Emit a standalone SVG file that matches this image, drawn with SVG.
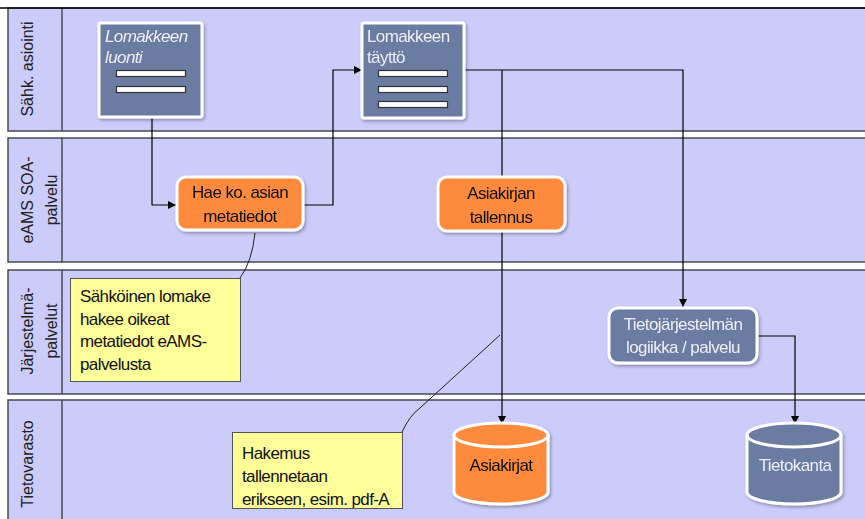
<svg xmlns="http://www.w3.org/2000/svg" width="865" height="519" viewBox="0 0 865 519">
  <defs>
    <style>
      .lane { fill: #ccccfb; stroke: #4a4a55; stroke-width: 1.5; }
      .hdr { fill: none; stroke: #4a4a55; stroke-width: 1.5; }
      .hdrtxt { font-family: "Liberation Sans", Arial, sans-serif; font-size: 16px; fill: #222; text-anchor: middle; }
      .conn { fill: none; stroke: #000; stroke-width: 1.2; }
      .note-link { fill: none; stroke: #222; stroke-width: 1; }
      .form { fill: #6b7ba1; stroke: #fff; stroke-width: 3; }
      .bar { fill: #fff; stroke: #333; stroke-width: 1.2; }
      .task-o { fill: #fd8a3d; stroke: #fff; stroke-width: 3; }
      .task-b { fill: #6b7ba1; stroke: #fff; stroke-width: 3; }
      .note { fill: #ffff99; stroke: #555; stroke-width: 1; }
      .t { font-family: "Liberation Sans", Arial, sans-serif; font-size: 17px; letter-spacing: -0.6px; }
      .dark { fill: #111; }
      .light { fill: #eef0f6; }
      .mid { text-anchor: middle; }
    </style>
    <marker id="arrow" viewBox="0 0 10 10" refX="10" refY="5" markerWidth="8" markerHeight="8" markerUnits="userSpaceOnUse" orient="auto">
      <path d="M0,0 L10,5 L0,10 z" fill="#000"/>
    </marker>
    <filter id="shadow" x="-10%" y="-10%" width="130%" height="130%">
      <feDropShadow dx="1.5" dy="2" stdDeviation="1.5" flood-color="#000" flood-opacity="0.3"/>
    </filter>
  </defs>

  <rect x="0" y="0" width="865" height="519" fill="#fff"/>

  <!-- swimlanes -->
  <g id="lanes">
    <g id="lane-asiointi">
      <rect class="lane" x="8" y="8" width="870" height="123"/>
      <line class="hdr" x1="62" y1="8" x2="62" y2="131"/>
      <line x1="0" y1="8" x2="865" y2="8" stroke="#000" stroke-width="1.5"/>
      <text class="hdrtxt" transform="translate(33,69) rotate(-90)">Sähk. asiointi</text>
    </g>
    <g id="lane-eams">
      <rect class="lane" x="8" y="138" width="870" height="124"/>
      <line class="hdr" x1="62" y1="138" x2="62" y2="262"/>
      <text class="hdrtxt" transform="translate(33,200) rotate(-90)">eAMS SOA-</text>
      <text class="hdrtxt" transform="translate(57,200) rotate(-90)">palvelu</text>
    </g>
    <g id="lane-jarjestelma">
      <rect class="lane" x="8" y="270" width="870" height="124"/>
      <line class="hdr" x1="62" y1="270" x2="62" y2="394"/>
      <text class="hdrtxt" transform="translate(33,331) rotate(-90)">Järjestelmä-</text>
      <text class="hdrtxt" transform="translate(57,331) rotate(-90)">palvelut</text>
    </g>
    <g id="lane-tietovarasto">
      <rect class="lane" x="8" y="400" width="870" height="130"/>
      <line class="hdr" x1="62" y1="400" x2="62" y2="519"/>
      <text class="hdrtxt" transform="translate(33,464) rotate(-90)">Tietovarasto</text>
    </g>
  </g>

  <!-- connectors -->
  <g id="connectors">
    <path class="conn" d="M152,117 L152,205 L176,205" marker-end="url(#arrow)"/>
    <path class="conn" d="M303,205 L333,205 L333,70 L362,70" marker-end="url(#arrow)"/>
    <path class="conn" d="M464,70 L683,70 L683,307" marker-end="url(#arrow)"/>
    <path class="conn" d="M502,70 L502,424" marker-end="url(#arrow)"/>
    <path class="conn" d="M757,336 L795,336 L795,424" marker-end="url(#arrow)"/>
    <path class="note-link" d="M255,233 Q252,262 240,278"/>
    <path class="note-link" d="M402,432 Q410,415 420,408 L500,335"/>
  </g>

  <!-- nodes -->
  <g id="node-lomakkeen-luonti" filter="url(#shadow)">
    <rect class="form" x="99" y="23" width="103" height="94" rx="2"/>
    <text class="t light" x="105" y="42" font-style="italic">Lomakkeen</text>
    <text class="t light" x="105" y="63" font-style="italic">luonti</text>
    <rect class="bar" x="116.5" y="70.5" width="69" height="6"/>
    <rect class="bar" x="116.5" y="86.5" width="69" height="6"/>
  </g>

  <g id="node-lomakkeen-taytto" filter="url(#shadow)">
    <rect class="form" x="362" y="23" width="102" height="95" rx="2"/>
    <text class="t light" x="367" y="42">Lomakkeen</text>
    <text class="t light" x="367" y="63">täyttö</text>
    <rect class="bar" x="378.5" y="70.5" width="69" height="6"/>
    <rect class="bar" x="378.5" y="86.5" width="69" height="6"/>
    <rect class="bar" x="378.5" y="101.5" width="69" height="6"/>
  </g>

  <g id="node-hae-metatiedot" filter="url(#shadow)">
    <rect class="task-o" x="177" y="177" width="126" height="53" rx="9"/>
    <text class="t dark mid" x="240" y="198">Hae ko. asian</text>
    <text class="t dark mid" x="240" y="222">metatiedot</text>
  </g>

  <g id="node-asiakirjan-tallennus" filter="url(#shadow)">
    <rect class="task-o" x="438" y="177" width="127" height="54" rx="9"/>
    <text class="t dark mid" x="501" y="199">Asiakirjan</text>
    <text class="t dark mid" x="501" y="223">tallennus</text>
  </g>

  <g id="node-tietojarjestelman-logiikka" filter="url(#shadow)">
    <rect class="task-b" x="609" y="308" width="148" height="55" rx="9"/>
    <text class="t light mid" x="683" y="330">Tietojärjestelmän</text>
    <text class="t light mid" x="683" y="353">logiikka / palvelu</text>
  </g>

  <g id="node-asiakirjat" filter="url(#shadow)">
    <path class="task-o" d="M454,435 L454,492 A47,12 0 0 0 548,492 L548,435 A47,12 0 0 0 454,435 Z"/>
    <path d="M454,435 A47,12 0 0 0 548,435" fill="none" stroke="#fff" stroke-width="3"/>
    <text class="t dark mid" x="501" y="471">Asiakirjat</text>
  </g>

  <g id="node-tietokanta" filter="url(#shadow)">
    <path class="task-b" d="M747,435 L747,492 A47,12 0 0 0 841,492 L841,435 A47,12 0 0 0 747,435 Z"/>
    <path d="M747,435 A47,12 0 0 0 841,435" fill="none" stroke="#fff" stroke-width="3"/>
    <text class="t light mid" x="795" y="471">Tietokanta</text>
  </g>

  <g id="note-metatiedot">
    <rect class="note" x="70.5" y="278.5" width="170" height="103"/>
    <text class="t dark" x="80" y="302">Sähköinen lomake</text>
    <text class="t dark" x="80" y="325">hakee oikeat</text>
    <text class="t dark" x="80" y="347">metatiedot eAMS-</text>
    <text class="t dark" x="80" y="370">palvelusta</text>
  </g>

  <g id="note-hakemus">
    <rect class="note" x="232.5" y="432.5" width="170" height="76"/>
    <text class="t dark" x="242" y="459">Hakemus</text>
    <text class="t dark" x="242" y="482">tallennetaan</text>
    <text class="t dark" x="242" y="505">erikseen, esim. pdf-A</text>
  </g>
</svg>
